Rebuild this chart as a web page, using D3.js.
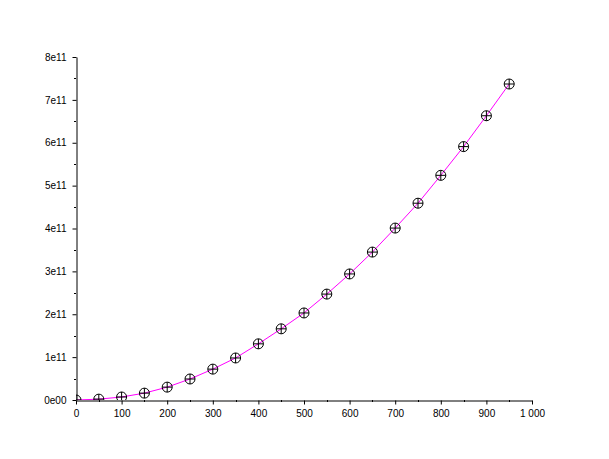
<!DOCTYPE html>
<html>
<head>
<meta charset="utf-8">
<script src="https://cdn.jsdelivr.net/npm/d3@7"></script>
<style>
html,body{margin:0;padding:0;background:#fff;}
svg{display:block;}
text{font-family:"Liberation Sans",Arial,sans-serif;font-size:10px;fill:#000;}
</style>
</head>
<body>
<svg id="chart" width="609" height="459"></svg>
<script>
const xValues = [0,50,100,150,200,250,300,350,400,450,500,550,600,650,700,750,800,850,900,950];
const yValues = [0,0.02e11,0.07e11,0.16e11,0.30e11,0.49e11,0.72e11,0.98e11,1.31e11,1.66e11,2.03e11,2.47e11,2.94e11,3.45e11,4.01e11,4.59e11,5.24e11,5.91e11,6.63e11,7.37e11];
const xTicks = [0,100,200,300,400,500,600,700,800,900,1000];
const xTickLabels = ["0","100","200","300","400","500","600","700","800","900","1 000"];
const yTicks = [0,1e11,2e11,3e11,4e11,5e11,6e11,7e11,8e11];
const yTickLabels = ["0e00","1e11","2e11","3e11","4e11","5e11","6e11","7e11","8e11"];

const svg = d3.select("#chart");
const x = d3.scaleLinear().domain([0,1000]).range([76,532]);
const y = d3.scaleLinear().domain([0,8e11]).range([400,57]);

svg.append("defs").append("clipPath").attr("id","clip")
  .append("rect").attr("x",76).attr("y",57).attr("width",456).attr("height",343);

const data = xValues.map((v,i)=>({x:v,y:yValues[i]}));

const g = svg.append("g").attr("clip-path","url(#clip)");
g.append("path").datum(data)
  .attr("fill","none").attr("stroke","#ff00ff").attr("stroke-width",1)
  .attr("d", d3.line().x(d=>x(d.x)).y(d=>y(d.y)));

const m = g.selectAll("g.mk").data(data).enter().append("g")
  .attr("transform", d=>`translate(${x(d.x)},${y(d.y)})`);
m.append("circle").attr("r",5).attr("fill","none").attr("stroke","#000").attr("stroke-width",1);
m.append("line").attr("x1",-5).attr("x2",5).attr("y1",0).attr("y2",0).attr("stroke","#000");
m.append("line").attr("x1",0).attr("x2",0).attr("y1",-5).attr("y2",5).attr("stroke","#000");

// x axis
const xAxis = d3.axisBottom(x).tickValues(xTicks).tickFormat((d,i)=>xTickLabels[i]).tickSize(4).tickSizeOuter(0).tickPadding(5);
const xa = svg.append("g").attr("transform","translate(0,400.5)").call(xAxis);
xa.selectAll("text").style("font-size","10px");
const xMinor = d3.range(50,1000,100);
svg.append("g").selectAll("line").data(xMinor).enter().append("line")
  .attr("x1",d=>Math.round(x(d))+0.5).attr("x2",d=>Math.round(x(d))+0.5)
  .attr("y1",400).attr("y2",402).attr("stroke","#000");

// y axis
const yAxis = d3.axisLeft(y).tickValues(yTicks).tickFormat((d,i)=>yTickLabels[i]).tickSize(4).tickSizeOuter(0).tickPadding(6);
const ya = svg.append("g").attr("transform","translate(76.5,0)").call(yAxis);
ya.selectAll("text").style("font-size","10px");
const yMinor = d3.range(0.5e11,8e11,1e11);
svg.append("g").selectAll("line").data(yMinor).enter().append("line")
  .attr("x1",74).attr("x2",76)
  .attr("y1",d=>Math.round(y(d))+0.5).attr("y2",d=>Math.round(y(d))+0.5).attr("stroke","#000");
svg.selectAll(".domain").attr("stroke","#000");
svg.selectAll(".tick line").attr("stroke","#000");
</script>
</body>
</html>
